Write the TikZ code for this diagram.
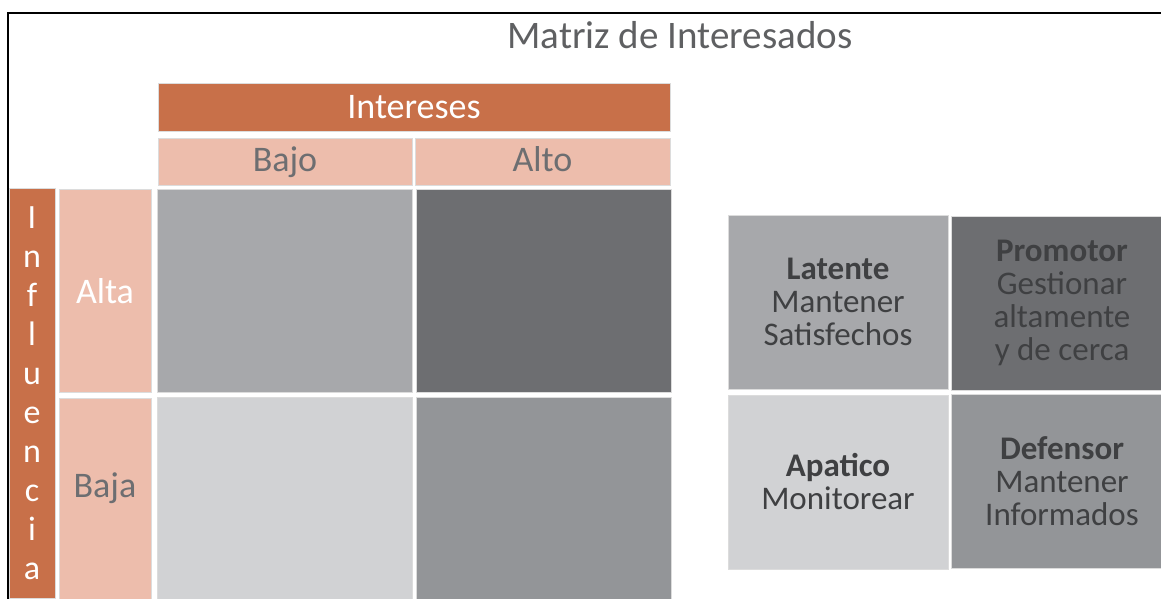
\documentclass[tikz,border=0pt]{standalone}
\usepackage{fontspec}
\setmainfont{Carlito}
\definecolor{orng}{HTML}{C87049}
\definecolor{pnk}{HTML}{EDBDAC}
\definecolor{gA}{HTML}{A7A8AB}
\definecolor{gB}{HTML}{6D6E71}
\definecolor{gC}{HTML}{D1D2D4}
\definecolor{gD}{HTML}{939598}
\definecolor{txtg}{HTML}{6D6E71}
\definecolor{txtd}{HTML}{3F4042}
\definecolor{titg}{HTML}{5F6062}
\definecolor{edge}{HTML}{DCDCDC}
\begin{document}
\begin{tikzpicture}[x=1pt,y=-1pt,
  box/.style={rectangle, inner sep=0pt, outer sep=0pt, draw=edge, line width=0.8pt},
  hdr/.style={box, fill=orng, text=white, font=\fontsize{36}{40}\selectfont},
  pnkbox/.style={box, fill=pnk, font=\fontsize{36}{40}\selectfont, text height=25pt, text depth=7pt},
  lbl/.style={inner sep=0pt, font=\fontsize{36}{40}\selectfont},
  quad/.style={box, align=center, text=txtd, font=\fontsize{33}{33}\selectfont}]
\useasboundingbox (0,0) rectangle (1161,598);
\begin{scope}
\clip (0,0) rectangle (1161,598);
% frame
\draw[black, line width=2pt] (8,610) -- (8,13) -- (1170,13);
% title
\node[lbl, text=titg, font=\fontsize{39}{42}\selectfont] (title) at (680,35) {Matriz de Interesados};
% column header
\node[hdr, minimum width=512pt, minimum height=48pt] (intereses) at (414,107) {Intereses};
\node[pnkbox, text=txtg, minimum width=254pt, minimum height=47pt] (bajoH) at (285,162) {Bajo};
\node[pnkbox, text=txtg, minimum width=255pt, minimum height=47pt] (altoH) at (542.5,162) {Alto};
% row header
\node[hdr, minimum width=46pt, minimum height=410pt, align=center,
      font=\fontsize{34}{39}\selectfont] (influencia) at (32,393.5)
  {I\\n\\f\\l\\u\\e\\n\\c\\i\\a};
\node[pnkbox, text=white, minimum width=92pt, minimum height=203pt,
      text height=29pt, text depth=3pt] (altaL) at (105,290.5) {Alta};
\node[pnkbox, minimum width=92pt, minimum height=212pt, anchor=north] (bajaL) at (105,398) {};
\node[lbl, text=txtg] (bajaT) at (105,488) {Baja};
% grid
\node[box, fill=gA, minimum width=255pt, minimum height=203pt] (c11) at (284.5,290.5) {};
\node[box, fill=gB, minimum width=255pt, minimum height=203pt] (c12) at (543.5,290.5) {};
\node[box, fill=gC, minimum width=255pt, minimum height=210pt, anchor=north] (c21) at (284.5,397) {};
\node[box, fill=gD, minimum width=255pt, minimum height=210pt, anchor=north] (c22) at (543.5,397) {};
% right-hand matrix
\node[quad, fill=gA, minimum width=220pt, minimum height=174pt] (latente) at (838,302)
  {\textbf{Latente}\\Mantener\\Satisfechos};
\node[quad, fill=gB, minimum width=222pt, minimum height=174pt] (promotor) at (1062,303)
  {\textbf{Promotor}\\Gestionar\\altamente\\y de cerca};
\node[quad, fill=gC, minimum width=220pt, minimum height=174pt] (apatico) at (838,482)
  {\textbf{Apatico}\\Monitorear};
\node[quad, fill=gD, minimum width=222pt, minimum height=174pt] (defensor) at (1062,481.5)
  {\textbf{Defensor}\\Mantener\\Informados};
\end{scope}
\end{tikzpicture}
\end{document}
